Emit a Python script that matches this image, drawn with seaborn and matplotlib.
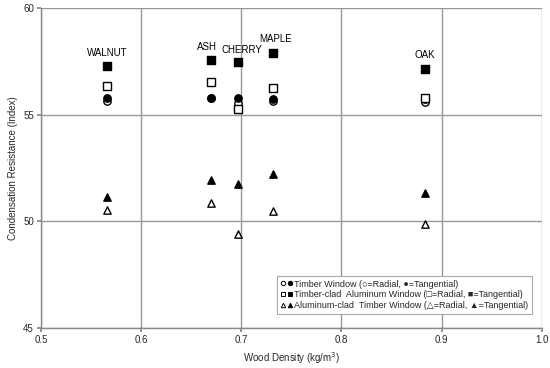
import matplotlib
matplotlib.use("Agg")
import matplotlib.pyplot as plt
import seaborn as sns
import pandas as pd
from matplotlib.lines import Line2D
from matplotlib.legend_handler import HandlerTuple

species = ["WALNUT", "ASH", "CHERRY", "MAPLE", "OAK"]
density = [0.566, 0.670, 0.697, 0.732, 0.883]
label_x = [0.566, 0.666, 0.701, 0.7345, 0.883]
label_y = [57.9, 58.17, 58.05, 58.55, 57.8]

timber_radial = [55.65, 55.8, 55.55, 55.65, 55.6]
timber_tangential = [55.8, 55.8, 55.8, 55.75, 55.75]
clad_radial = [56.35, 56.55, 55.27, 56.25, 55.8]
clad_tangential = [57.28, 57.56, 57.47, 57.9, 57.15]
alu_radial = [50.55, 50.87, 49.4, 50.5, 49.85]
alu_tangential = [51.15, 51.95, 51.75, 52.2, 51.35]

xticks = [0.5, 0.6, 0.7, 0.8, 0.9, 1.0]
xticklabels = ["0.5", "0.6", "0.7", "0.8", "0.9", "1.0"]
yticks = [45, 50, 55, 60]

sns.set_theme(style="white")
plt.rcParams['font.family'] = ['Liberation Sans', 'DejaVu Sans']

fig = plt.figure(figsize=(5.5, 3.68), dpi=100)
ax = fig.add_axes([0.0745, 0.109, 0.9105, 0.869])

series = [
    (timber_radial, "o", "white"),
    (timber_tangential, "o", "black"),
    (clad_radial, "s", "white"),
    (clad_tangential, "s", "black"),
    (alu_radial, "^", "white"),
    (alu_tangential, "^", "black"),
]
for vals, m, fc in series:
    df = pd.DataFrame({"x": density, "y": vals})
    sns.scatterplot(data=df, x="x", y="y", marker=m, s=28, color=fc,
                    edgecolor="black", linewidth=1.0, ax=ax, zorder=3)

for name, x, y in zip(species, label_x, label_y):
    ax.text(x, y, name, ha="center", va="center", fontsize=7, color="black")

ax.set_xlim(0.5, 1.0)
ax.set_ylim(45, 60)
ax.set_xticks(xticks)
ax.set_xticklabels(xticklabels)
ax.set_yticks(yticks)
ax.tick_params(axis="both", labelsize=7, length=3, color="#888888", direction="out",
               left=True, bottom=True, pad=2)
ax.grid(True, color="#999999", linewidth=1.0)
for s in ["top", "right"]:
    ax.spines[s].set_visible(False)
for s in ["left", "bottom"]:
    ax.spines[s].set_color("#888888")
    ax.spines[s].set_linewidth(1.0)

ax.set_xlabel("Wood Density (kg/m$^3$)", fontsize=7, labelpad=4)
ax.set_ylabel("Condensation Resistance (Index)", fontsize=7, labelpad=4)

def mk(m, fc):
    return Line2D([], [], marker=m, linestyle="none", markerfacecolor=fc,
                  markeredgecolor="black", markersize=3.2, markeredgewidth=0.7)

handles = [(mk("o", "white"), mk("o", "black")),
           (mk("s", "white"), mk("s", "black")),
           (mk("^", "white"), mk("^", "black"))]
labels = ["Timber Window (\u25cb=Radial, \u25cf=Tangential)",
          "Timber-clad  Aluminum Window (\u25a1=Radial, \u25a0=Tangential)",
          "Aluminum-clad  Timber Window (\u25b3=Radial, \u25b2=Tangential)"]
leg = ax.legend(handles, labels, handler_map={tuple: HandlerTuple(ndivide=None, pad=0.2)},
                loc="lower right", bbox_to_anchor=(0.99, 0.03), fontsize=6.5,
                frameon=True, fancybox=False, framealpha=1, edgecolor="#aaaaaa",
                handlelength=1.2, handletextpad=0.3, borderpad=0.4, labelspacing=0.2)
leg.get_frame().set_linewidth(0.8)

fig.savefig("out.png", dpi=100)
